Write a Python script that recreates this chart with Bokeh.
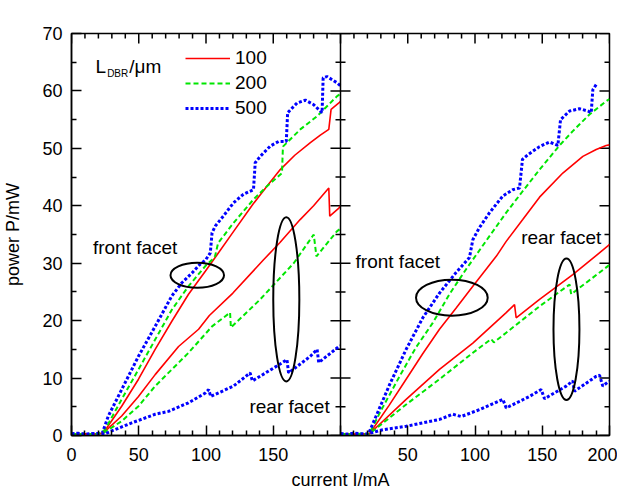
import math
from bokeh.plotting import figure
from bokeh.models import Range1d, FixedTicker, Span, Label, Legend, LegendItem
from bokeh.embed import file_html
from bokeh.resources import INLINE

# ---------------- data: 6th order (left panel) ----------------
red6_front_x = [0, 5, 10, 15, 20, 23.5, 37.3, 49.8, 62.2, 74.6, 87, 99.5, 108, 120.4, 135, 145.3, 155.2, 166, 177.6, 185, 191.3, 193, 198.8, 200]
red6_front_y = [0.3, 0.2, 0.3, 0.2, 0.3, 0.4, 5.1, 9.8, 15.0, 19.9, 24.6, 28.6, 31.4, 35.5, 40.3, 43.4, 46.3, 48.8, 51.0, 52.3, 53.3, 56.8, 57.9, 58.2]

green6_front_x = [0, 5, 10, 15, 20, 24.9, 37.3, 49.8, 62.2, 74.6, 87, 99.5, 104.5, 106.7, 109, 120.4, 135.3, 145.3, 156.5, 157.2, 170.1, 182.6, 197.5, 200]
green6_front_y = [0.3, 0.2, 0.3, 0.2, 0.3, 1.0, 6.3, 11.5, 16.7, 21.9, 26.0, 29.5, 30.6, 31.2, 33.5, 37.0, 41.1, 43.4, 45.7, 50.3, 53.3, 55.6, 59.1, 59.5]

blue6_front_x = [0, 5, 10, 15, 20, 23, 27.4, 37.3, 49.8, 62.2, 74.6, 82.1, 89.6, 95.5, 99.5, 103.2, 104.5, 107, 112.9, 120.4, 127.8, 135.3, 136.6, 140.3, 147.8, 154, 159.7, 160.7, 167.7, 173.9, 180.1, 186.3, 187.1, 190, 197.5, 200]
blue6_front_y = [0.3, 0.4, 0.2, 0.3, 0.4, 0.5, 3.4, 8.0, 13.8, 19.0, 24.3, 26.6, 28.3, 29.8, 30.5, 31.8, 35.3, 36.5, 38.2, 40.5, 42.0, 42.8, 47.5, 48.6, 50.4, 51.2, 51.2, 56.2, 57.9, 58.4, 57.6, 56.2, 62.3, 62.5, 61.4, 60.9]

red6_rear_x = [0, 5, 10, 15, 20, 23.5, 37.3, 49.8, 62.2, 79.6, 94.5, 102.5, 120, 142.8, 155, 170, 180, 191.3, 192, 198.8, 200]
red6_rear_y = [0.3, 0.2, 0.3, 0.2, 0.3, 0.4, 3.4, 6.8, 10.6, 15.5, 18.5, 20.9, 24.8, 30.6, 33.6, 37.6, 40.0, 43.1, 38.2, 39.6, 40.0]

green6_rear_x = [0, 5, 10, 15, 20, 24, 37.3, 49.8, 62.2, 74.6, 87, 104.5, 117.9, 118.5, 140.3, 165.2, 180.1, 182.1, 197.5, 200]
green6_rear_y = [0.3, 0.2, 0.3, 0.2, 0.3, 0.5, 2.5, 5.1, 8.6, 11.5, 14.4, 19.0, 21.4, 18.8, 23.7, 30.0, 35.0, 31.2, 35.6, 36.0]

blue6_rear_x = [0, 5, 10, 15, 20, 25, 29.9, 44.8, 62.2, 72.1, 87, 99.5, 102, 103.5, 120.4, 132.8, 134.5, 152.7, 160.2, 161.4, 177.6, 182.6, 183.8, 198.8, 200]
blue6_rear_y = [0.2, 0.3, 0.2, 0.3, 0.2, 0.3, 0.8, 2.2, 3.7, 4.2, 5.7, 7.4, 8.0, 6.8, 8.6, 10.9, 9.5, 12.1, 13.2, 10.9, 13.8, 15.0, 12.7, 15.5, 15.6]

# ---------------- data: 7th order (right panel) ----------------
red7_front_x = [0, 5, 10, 15, 20, 21.6, 36, 48.8, 61, 73.6, 86, 98.4, 115.8, 123.2, 135.5, 148, 165.3, 180.2, 190.1, 197.5, 200]
red7_front_y = [0.2, 0.3, 0.2, 0.3, 0.2, 0.3, 5.2, 9.8, 14.2, 18.5, 22.2, 26.0, 31.2, 33.8, 37.6, 41.5, 45.7, 48.6, 49.8, 50.5, 50.6]

green7_front_x = [0, 5, 10, 15, 20, 21.6, 30, 43.9, 56, 68.6, 81, 93.5, 108, 123.2, 135, 148, 162.8, 172.7, 185.1, 197.5, 200]
green7_front_y = [0.2, 0.3, 0.2, 0.3, 0.2, 0.4, 4.3, 10.3, 15.3, 19.6, 24.6, 29.0, 33.8, 38.8, 42.4, 46.3, 50.5, 53.0, 55.9, 58.2, 58.6]

blue7_front_x = [0, 5, 10, 15, 20, 21, 26.5, 36.4, 48.8, 61.2, 73.6, 86, 95.9, 98.4, 103.3, 110.8, 120.7, 128.1, 133.1, 135.3, 139.3, 148, 155.4, 161.6, 163.6, 170.3, 177.7, 183.9, 186.4, 187.6, 190.1]
blue7_front_y = [0.3, 0.2, 0.4, 0.3, 0.2, 0.4, 3.4, 8.8, 15.0, 20.5, 24.8, 28.4, 31.0, 34.1, 36.2, 38.8, 41.7, 42.8, 43.1, 48.1, 48.9, 50.3, 51.1, 50.5, 55.0, 56.5, 56.9, 56.5, 56.2, 60.2, 61.1]

red7_rear_x = [0, 5, 10, 15, 20, 21.6, 48.8, 73.6, 98.4, 123.2, 129.4, 130.6, 148, 172.7, 198.8, 200]
red7_rear_y = [0.2, 0.3, 0.2, 0.3, 0.2, 0.3, 6.3, 11.5, 16.1, 21.4, 22.8, 20.5, 23.7, 28.0, 33.0, 33.3]

green7_rear_x = [0, 5, 10, 15, 20, 21.6, 48.8, 73.6, 98.4, 112, 114, 123.2, 148, 170.3, 171.5, 198.8, 200]
green7_rear_y = [0.2, 0.3, 0.2, 0.3, 0.2, 0.3, 5.4, 9.8, 14.4, 16.8, 16.2, 17.9, 22.5, 26.3, 24.6, 29.5, 29.8]

blue7_rear_x = [0, 5, 10, 15, 20, 22, 31.5, 48.8, 73.6, 83.5, 89.7, 103.4, 120.7, 123.2, 140.5, 149.2, 151.7, 167.8, 172.7, 173.9, 190.1, 192.6, 195, 198.8, 200]
blue7_rear_y = [0.3, 0.2, 0.3, 0.2, 0.3, 0.4, 1.0, 1.6, 2.8, 3.7, 3.3, 4.5, 6.3, 4.8, 6.8, 8.0, 6.4, 8.6, 9.5, 7.7, 10.3, 10.5, 8.6, 9.3, 9.4]

# ---------------- labels / ticks ----------------
legend_labels = ["100", "200", "500"]
panel_titles = ["6th order", "7th order"]
x_ticks_left = [0, 50, 100, 150]
x_ticks_right = [50, 100, 150, 200]
y_ticks = [0, 10, 20, 30, 40, 50, 60, 70]
PANEL = 200  # width of one panel in mA
Y_MAX = 70

# ellipses (x, y, width, height) marking facets
ell_left_x = [93.5, 159.7]
ell_left_y = [27.9, 23.7]
ell_left_w = [39.8, 19.4]
ell_left_h = [4.35, 28.6]
ell_right_x = [82.8, 168.0]
ell_right_y = [24.0, 18.5]
ell_right_w = [53.3, 19.3]
ell_right_h = [6.27, 24.6]

FONT = "Liberation Sans"
RED, GREEN, BLUE = "#ff0000", "#00e600", "#0000ff"

p = figure(frame_width=538, frame_height=402,
           x_range=Range1d(0, 2 * PANEL), y_range=Range1d(0, Y_MAX),
           output_backend="svg", toolbar_location=None,
           min_border_left=71, min_border_right=8, min_border_top=33,
           min_border_bottom=50)
p.extra_x_ranges = {"r": Range1d(-PANEL, PANEL)}
p.grid.visible = False
p.outline_line_color = "black"
p.outline_line_width = 1.5
p.background_fill_color = "white"
p.border_fill_color = "white"

x_major = x_ticks_left + [PANEL] + [PANEL + t for t in x_ticks_right]
x_minor = [v for v in range(0, 2 * PANEL + 1, 10) if v not in x_major]
y_minor = [v for v in range(0, Y_MAX + 1, 5) if v not in y_ticks]


def style_axis(ax):
    ax.axis_line_color = "black"
    ax.axis_line_width = 1.5
    ax.major_tick_in = 10
    ax.major_tick_out = 0
    ax.minor_tick_in = 5
    ax.minor_tick_out = 0
    ax.major_tick_line_width = 1.5
    ax.minor_tick_line_width = 1.5
    ax.major_tick_line_color = "black"
    ax.minor_tick_line_color = "black"
    ax.major_label_text_font = FONT
    ax.major_label_text_font_size = "18px"
    ax.major_label_text_color = "black"
    ax.axis_label_text_font = FONT
    ax.axis_label_text_font_size = "18px"
    ax.axis_label_text_font_style = "normal"
    ax.axis_label_text_color = "black"


xa = p.xaxis[0]
xa.ticker = FixedTicker(ticks=x_major, minor_ticks=x_minor)
overrides = {PANEL: ""}
for t in x_ticks_right:
    overrides[PANEL + t] = str(t)
xa.major_label_overrides = overrides
xa.axis_label = "current I/mA"
style_axis(xa)
xa.major_label_standoff = 12
xa.axis_label_standoff = 6

ya = p.yaxis[0]
ya.ticker = FixedTicker(ticks=y_ticks, minor_ticks=y_minor)
ya.axis_label = "power P/mW"
style_axis(ya)
ya.major_label_standoff = 9
ya.axis_label_standoff = 16

tick_kw = dict(marker="dash", line_color="black", line_width=1.5)
# top edge ticks (inward)
p.scatter(x_major, [Y_MAX] * len(x_major), size=20, angle=math.pi / 2, **tick_kw)
p.scatter(x_minor, [Y_MAX] * len(x_minor), size=10, angle=math.pi / 2, **tick_kw)
# right edge ticks (inward)
p.scatter([2 * PANEL] * len(y_ticks), y_ticks, size=20, **tick_kw)
p.scatter([2 * PANEL] * len(y_minor), y_minor, size=10, **tick_kw)
# panel divider with ticks on both sides
p.add_layout(Span(location=PANEL, dimension="height", line_color="black", line_width=1.5))
p.scatter([PANEL] * len(y_ticks), y_ticks, size=20, **tick_kw)
p.scatter([PANEL] * len(y_minor), y_minor, size=10, **tick_kw)

red_kw = dict(line_color=RED, line_width=1.6)
green_kw = dict(line_color=GREEN, line_width=2, line_dash="5 3")
blue_kw = dict(line_color=BLUE, line_width=3, line_dash="3 2")

r_red = p.line(red6_front_x, red6_front_y, **red_kw)
r_green = p.line(green6_front_x, green6_front_y, **green_kw)
r_blue = p.line(blue6_front_x, blue6_front_y, **blue_kw)
p.line(red6_rear_x, red6_rear_y, **red_kw)
p.line(green6_rear_x, green6_rear_y, **green_kw)
p.line(blue6_rear_x, blue6_rear_y, **blue_kw)

p.line(red7_front_x, red7_front_y, x_range_name="r", **red_kw)
p.line(green7_front_x, green7_front_y, x_range_name="r", **green_kw)
p.line(blue7_front_x, blue7_front_y, x_range_name="r", **blue_kw)
p.line(red7_rear_x, red7_rear_y, x_range_name="r", **red_kw)
p.line(green7_rear_x, green7_rear_y, x_range_name="r", **green_kw)
p.line(blue7_rear_x, blue7_rear_y, x_range_name="r", **blue_kw)

p.ellipse(ell_left_x, ell_left_y, width=ell_left_w, height=ell_left_h,
          fill_alpha=0, line_color="black", line_width=2)
p.ellipse(ell_right_x, ell_right_y, width=ell_right_w, height=ell_right_h,
          fill_alpha=0, line_color="black", line_width=2, x_range_name="r")

legend = Legend(items=[LegendItem(label=legend_labels[0], renderers=[r_red]),
                       LegendItem(label=legend_labels[1], renderers=[r_green]),
                       LegendItem(label=legend_labels[2], renderers=[r_blue])],
                location=(114, 316), padding=0, margin=0, spacing=3,
                glyph_width=45, glyph_height=22, label_height=22,
                label_standoff=5, label_text_font=FONT,
                label_text_font_size="19px", label_text_color="black",
                border_line_alpha=0, background_fill_alpha=0)
p.add_layout(legend, "center")


def lab(text, x, y, size="19px", align="left", baseline="middle", rng="default", **kw):
    p.add_layout(Label(x=x, y=y, text=text, text_font=FONT, text_font_size=size,
                       text_align=align, text_baseline=baseline, text_color="black",
                       x_range_name=rng, **kw))


# legend heading L_DBR/um
lab("L", 17.8, 64.3, baseline="alphabetic")
lab("DBR", 26.5, 63.0, size="10px", baseline="alphabetic")
lab("/\u03bcm", 43.0, 64.3, baseline="alphabetic")

# panel titles
lab(panel_titles[0], PANEL / 2, Y_MAX, align="center", baseline="alphabetic", y_offset=7)
lab(panel_titles[1], PANEL / 2, Y_MAX, align="center", baseline="alphabetic", y_offset=7, rng="r")

# facet annotations
lab("front facet", 15.9, 32.7)
lab("rear facet", 132.3, 5.1)
lab("front facet", 11.2, 30.3, rng="r")
lab("rear facet", 134.3, 34.4, rng="r")

open("out.html", "w").write(file_html(p, INLINE))
